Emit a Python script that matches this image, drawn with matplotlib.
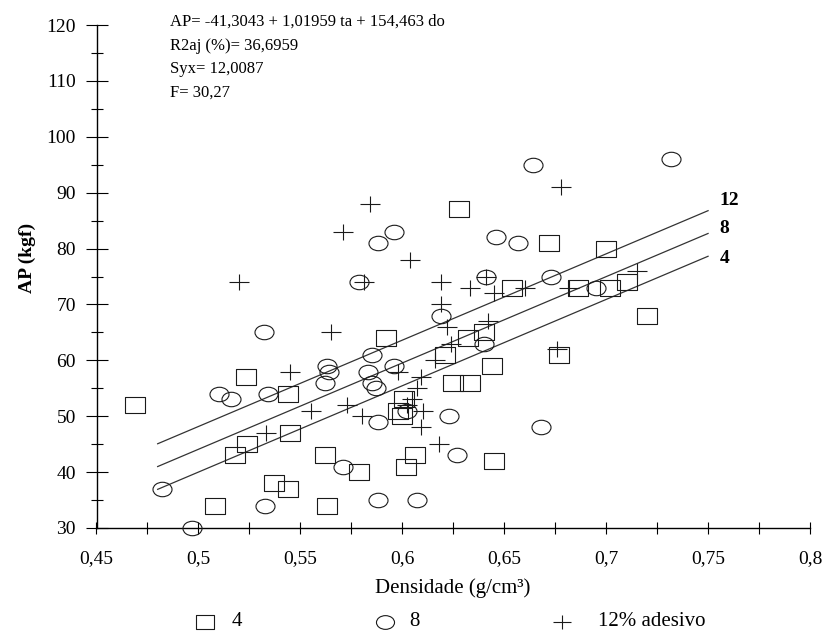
import numpy as np
import matplotlib.pyplot as plt
from matplotlib.path import Path
from matplotlib.lines import Line2D
from matplotlib.ticker import MultipleLocator, FuncFormatter

plt.rcParams['font.family'] = ['Liberation Serif', 'DejaVu Serif']
plt.rcParams['axes.linewidth'] = 1.0

# dados (densidade g/cm3, AP kgf)
dens_4 = [0.469, 0.508, 0.518, 0.524, 0.5235, 0.537, 0.544, 0.545, 0.544, 0.562,
          0.563, 0.579, 0.592, 0.598, 0.600, 0.601, 0.602, 0.606, 0.621, 0.625,
          0.633, 0.628, 0.632, 0.640, 0.644, 0.645, 0.654, 0.672, 0.677, 0.686,
          0.700, 0.702, 0.710, 0.720]
ap_4 = [52, 34, 43, 45, 57, 38, 37, 47, 54, 43,
        34, 40, 64, 51, 50, 53, 41, 43, 61, 56,
        56, 87, 64, 65, 59, 42, 73, 81, 61, 73,
        80, 73, 74, 68]

dens_8 = [0.482, 0.497, 0.510, 0.516, 0.532, 0.534, 0.5325, 0.562, 0.563, 0.564,
          0.571, 0.579, 0.583, 0.585, 0.585, 0.587, 0.588, 0.596, 0.596, 0.588,
          0.588, 0.6025, 0.607, 0.619, 0.623, 0.627, 0.640, 0.641, 0.646, 0.657,
          0.664, 0.668, 0.673, 0.695, 0.732]
ap_8 = [37, 30, 54, 53, 65, 54, 34, 56, 59, 58,
        41, 74, 58, 61, 56, 55, 81, 83, 59, 49,
        35, 51, 35, 68, 50, 43, 63, 75, 82, 81,
        95, 48, 75, 73, 96]

dens_12 = [0.520, 0.533, 0.545, 0.555, 0.565, 0.571, 0.573, 0.580, 0.581, 0.584,
           0.598, 0.6025, 0.605, 0.604, 0.607, 0.609, 0.609, 0.610, 0.616, 0.618,
           0.619, 0.619, 0.622, 0.624, 0.633, 0.641, 0.642, 0.645, 0.660, 0.676,
           0.678, 0.682, 0.715]
ap_12 = [74, 47, 58, 51, 65, 83, 52, 50, 74, 88,
         58, 52, 53, 78, 55, 57, 48, 51, 60, 45,
         74, 70, 66, 63, 73, 75, 67, 72, 73, 62,
         91, 73, 76]

# modelo ajustado
b0, b1, b2 = -41.3043, 1.01959, 154.463
teores = [4, 8, 12]
x_reta = np.array([0.48, 0.75])
texto_modelo = ["AP= -41,3043 + 1,01959 ta + 154,463 do",
                "R2aj (%)= 36,6959",
                "Syx= 12,0087",
                "F= 30,27"]
legendas = ["4", "8", "12% adesivo"]

# marcadores levemente achatados como no original
quadrado = Path([(-1, -0.79), (1, -0.79), (1, 0.79), (-1, 0.79), (-1, -0.79)],
                [Path.MOVETO, Path.LINETO, Path.LINETO, Path.LINETO, Path.CLOSEPOLY])
uc = Path.unit_circle()
elipse = Path(uc.vertices * np.array([1.0, 0.76]), uc.codes)
cruz = Path([(-1, 0), (1, 0), (0, -0.8), (0, 0.8)],
            [Path.MOVETO, Path.LINETO, Path.MOVETO, Path.LINETO])

cor = '#1a1a1a'
W, H = 824, 637
fig = plt.figure(figsize=(W / 100, H / 100), dpi=100)
ax = fig.add_axes([96.5 / W, 1 - 528 / H, 713.5 / W, 503 / H])
ax.set_xlim(0.45, 0.8)
ax.set_ylim(30, 120)
ax.spines['top'].set_visible(False)
ax.spines['right'].set_visible(False)

for d, a, mk in [(dens_4, ap_4, quadrado), (dens_8, ap_8, elipse), (dens_12, ap_12, cruz)]:
    ax.plot(d, a, linestyle='none', marker=mk, markersize=13.7, mfc='none',
            mec=cor, mew=0.8, clip_on=False, zorder=3)

desloc = {4: -0.4, 8: 0.9, 12: 1.8}
for t in teores:
    y_reta = b0 + b1 * t + b2 * x_reta
    ax.plot(x_reta, y_reta, color='#333333', lw=0.9, zorder=2)
    ax.text(0.7555, y_reta[-1] + desloc[t], str(t), ha='left', va='center',
            fontsize=14, fontweight='bold')

ax.xaxis.set_major_locator(MultipleLocator(0.05))
ax.xaxis.set_minor_locator(MultipleLocator(0.025))
ax.yaxis.set_major_locator(MultipleLocator(10))
ax.yaxis.set_minor_locator(MultipleLocator(5))
ax.xaxis.set_major_formatter(FuncFormatter(lambda v, p: f"{v:.2f}".rstrip('0').replace('.', ',')))
ax.tick_params(axis='x', which='both', direction='inout', length=8, width=0.8,
               labelsize=14, pad=12)
ax.tick_params(axis='y', which='major', direction='inout', length=15.5, width=0.8,
               labelsize=14, pad=7)
ax.tick_params(axis='y', which='minor', direction='inout', length=8, width=0.8)

ax.set_xlabel("Densidade (g/cm³)", fontsize=15, va='center')
ax.xaxis.set_label_coords(0.4997, -0.119)
ax.set_ylabel("AP (kgf)", fontsize=14, fontweight='bold', va='center')
ax.yaxis.set_label_coords(-0.097, 0.537)

for i, linha in enumerate(texto_modelo):
    fig.text(170 / W, 1 - (22 + 23.7 * i) / H, linha, fontsize=12, ha='left', va='center')

# legenda abaixo do grafico
simbolos = [quadrado, elipse, cruz]
pos_leg = [205, 385, 562]
pos_txt = [232, 409, 598]
for lab, mk, px, tx in zip(legendas, simbolos, pos_leg, pos_txt):
    fig.add_artist(Line2D([px / W], [1 - 622 / H], transform=fig.transFigure,
                          linestyle='none', marker=mk, markersize=13, mfc='none',
                          mec=cor, mew=0.8))
    fig.text(tx / W, 1 - 622 / H, lab, fontsize=15, ha='left', va='center')

fig.savefig('out.png', dpi=100)
